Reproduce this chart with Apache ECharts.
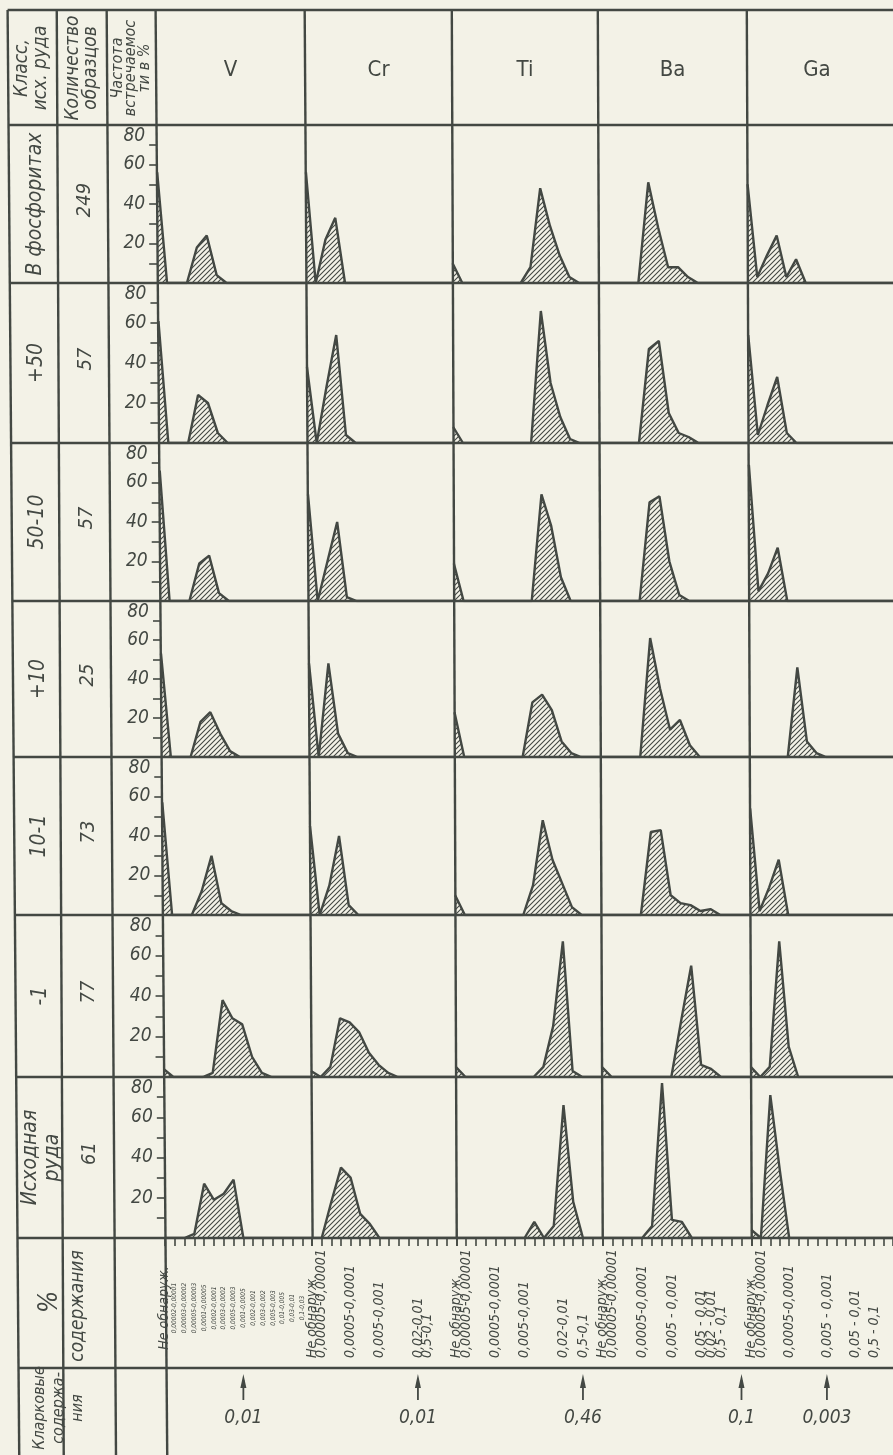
<!DOCTYPE html>
<html>
<head>
<meta charset="utf-8">
<script src="https://cdn.jsdelivr.net/npm/echarts@6/dist/echarts.min.js"></script>
<style>
  html, body { margin: 0; padding: 0; background: #f3f2e7; }
  #main { width: 893px; height: 1455px; }
</style>
</head>
<body>
<div id="main"></div>
<script>
const elements = ['V', 'Cr', 'Ti', 'Ba', 'Ga'];
const oreClasses = ['В фосфоритах', '+50', '50-10', '+10', '10-1', '-1', 'Исходная\nруда'];
const sampleCounts = ['249', '57', '57', '25', '73', '77', '61'];

// frequency, %, per content class (16 ticks per element), one row per ore class
const vFreq = [
  [56, 0, 0, 0, 18, 24, 4, 0, 0, 0, 0, 0, 0, 0, 0, 0],
  [61, 0, 0, 0, 24, 20, 5, 0, 0, 0, 0, 0, 0, 0, 0, 0],
  [66, 0, 0, 0, 19, 23, 4, 0, 0, 0, 0, 0, 0, 0, 0, 0],
  [53, 0, 0, 0, 18, 23, 12, 3, 0, 0, 0, 0, 0, 0, 0, 0],
  [57, 0, 0, 0, 12, 30, 6, 2, 0, 0, 0, 0, 0, 0, 0, 0],
  [4, 0, 0, 0, 0, 2, 38, 29, 26, 10, 2, 0, 0, 0, 0, 0],
  [0, 0, 0, 2, 27, 19, 22, 29, 0, 0, 0, 0, 0, 0, 0, 0]
];
const crFreq = [
  [56, 0, 22, 33, 0, 0, 0, 0, 0, 0, 0, 0, 0, 0, 0, 0],
  [38, 0, 28, 54, 4, 0, 0, 0, 0, 0, 0, 0, 0, 0, 0, 0],
  [54, 0, 20, 40, 2, 0, 0, 0, 0, 0, 0, 0, 0, 0, 0, 0],
  [48, 0, 48, 12, 2, 0, 0, 0, 0, 0, 0, 0, 0, 0, 0, 0],
  [45, 0, 15, 40, 5, 0, 0, 0, 0, 0, 0, 0, 0, 0, 0, 0],
  [3, 0, 5, 29, 27, 22, 12, 6, 2, 0, 0, 0, 0, 0, 0, 0],
  [0, 0, 18, 35, 30, 12, 7, 0, 0, 0, 0, 0, 0, 0, 0, 0]
];
const tiFreq = [
  [10, 0, 0, 0, 0, 0, 0, 0, 8, 48, 29, 14, 3, 0, 0, 0],
  [8, 0, 0, 0, 0, 0, 0, 0, 0, 66, 30, 13, 2, 0, 0, 0],
  [19, 0, 0, 0, 0, 0, 0, 0, 0, 54, 38, 12, 0, 0, 0, 0],
  [23, 0, 0, 0, 0, 0, 0, 0, 28, 32, 24, 8, 2, 0, 0, 0],
  [10, 0, 0, 0, 0, 0, 0, 0, 15, 48, 28, 16, 4, 0, 0, 0],
  [5, 0, 0, 0, 0, 0, 0, 0, 0, 5, 25, 67, 3, 0, 0, 0],
  [0, 0, 0, 0, 0, 0, 0, 0, 8, 0, 6, 66, 18, 0, 0, 0]
];
const baFreq = [
  [0, 0, 0, 0, 0, 51, 28, 8, 8, 3, 0, 0, 0, 0, 0, 0],
  [0, 0, 0, 0, 0, 47, 51, 15, 5, 3, 0, 0, 0, 0, 0, 0],
  [0, 0, 0, 0, 0, 50, 53, 20, 3, 0, 0, 0, 0, 0, 0, 0],
  [0, 0, 0, 0, 0, 61, 35, 14, 19, 6, 0, 0, 0, 0, 0, 0],
  [0, 0, 0, 0, 0, 42, 43, 10, 6, 5, 2, 3, 0, 0, 0, 0],
  [5, 0, 0, 0, 0, 0, 0, 0, 28, 55, 6, 4, 0, 0, 0, 0],
  [0, 0, 0, 0, 0, 6, 77, 9, 8, 0, 0, 0, 0, 0, 0, 0]
];
const gaFreq = [
  [50, 3, 14, 24, 3, 12, 0, 0, 0, 0, 0, 0, 0, 0, 0, 0],
  [54, 4, 19, 33, 5, 0, 0, 0, 0, 0, 0, 0, 0, 0, 0, 0],
  [69, 5, 14, 27, 0, 0, 0, 0, 0, 0, 0, 0, 0, 0, 0, 0],
  [0, 0, 0, 0, 0, 46, 8, 2, 0, 0, 0, 0, 0, 0, 0, 0],
  [54, 2, 14, 28, 0, 0, 0, 0, 0, 0, 0, 0, 0, 0, 0, 0],
  [5, 0, 5, 67, 15, 0, 0, 0, 0, 0, 0, 0, 0, 0, 0, 0],
  [4, 0, 71, 34, 0, 0, 0, 0, 0, 0, 0, 0, 0, 0, 0, 0]
];

// content classes, % (label shown under a tick, '' = unlabelled tick)
const vTicks = ['Не обнаруж.', '0,00002-0,00001', '0,00003-0,00002', '0,00005-0,00003', '0,0001-0,00005',
  '0,0002-0,0001', '0,0003-0,0002', '0,0005-0,0003', '0,001-0,0005', '0,002-0,001', '0,003-0,002',
  '0,005-0,003', '0,01-0,005', '0,03-0,01', '0,1-0,03', ''];
const crTicks = ['Не обнаруж.', '0,00005-0,00001', '', '', '0,0005-0,0001', '', '', '0,005-0,001', '', '', '',
  '0,02-0,01', '0,5-0,1', '', '', ''];
const tiTicks = ['Не обнаруж.', '0,00005-0,00001', '', '', '0,0005-0,0001', '', '', '0,005-0,001', '', '', '',
  '0,02-0,01', '', '0,5-0,1', '', ''];
const baTicks = ['Не обнаруж.', '0,00005-0,00001', '', '', '0,0005-0,0001', '', '', '0,005 - 0,001', '', '',
  '0,05 - 0,01', '0,02 - 0,01', '0,5 - 0,1', '', '', ''];
const gaTicks = ['Не обнаруж.', '0,00005-0,00001', '', '', '0,0005-0,0001', '', '', '', '0,005 - 0,001', '', '',
  '0,05 - 0,01', '', '0,5 - 0,1', '', ''];

const freqTicks = [20, 40, 60, 80];
// clarke contents and the class tick they point at
const clarkeText = ['0,01', '0,01', '0,46', '0,1', '0,003'];
const clarkeTick = [8, 11, 13, 14, 8];

const freqs = [vFreq, crFreq, tiFreq, baFreq, gaFreq];
const ticks = [vTicks, crTicks, tiTicks, baTicks, gaTicks];

// --- table layout ---
const INK = '#434843';
const FONT = "'DejaVu Sans Condensed', 'DejaVu Sans', sans-serif";
const W = 893;
const rowTops = [125, 283, 443, 601, 757, 915, 1077];
const rowBots = [283, 443, 601, 757, 915, 1077, 1238];
// the scan is slightly skewed: column lines measured near top and near bottom
const colTop = [8, 57, 107, 156, 305, 452, 598, 747];
const colBot = [18, 63, 115, 166, 313, 457, 603, 752];
const colX = (i, y) => colTop[i] + (colBot[i] - colTop[i]) * (y - 60) / 1240;

const hatch = document.createElement('canvas');
hatch.width = 5; hatch.height = 5;
const hc = hatch.getContext('2d');
hc.strokeStyle = INK; hc.lineWidth = 1.1;
hc.beginPath();
hc.moveTo(0, 5); hc.lineTo(5, 0);
hc.moveTo(-1, 1); hc.lineTo(1, -1);
hc.moveTo(4, 6); hc.lineTo(6, 4);
hc.stroke();

const grids = [], xAxes = [], yAxes = [], series = [];
oreClasses.forEach((cls, r) => {
  const top = rowTops[r], h = rowBots[r] - rowTops[r], mid = top + h / 2;
  elements.forEach((el, e) => {
    const k = grids.length;
    const left = colX(3 + e, mid);
    const right = e < 4 ? colX(4 + e, mid) : W;
    grids.push({ left: left, top: top, width: right - left, height: h, containLabel: false, outerBoundsMode: 'none' });
    const last = r === oreClasses.length - 1;
    const tk = ticks[e];
    xAxes.push({
      type: 'category', gridIndex: k, boundaryGap: false,
      data: tk.map((t, i) => String(i)),
      axisLine: { show: false },
      axisTick: { show: last, interval: 0, length: 8, lineStyle: { color: INK, width: 1.6 } },
      axisLabel: {
        show: last, interval: 0, rotate: 90, hideOverlap: false,
        align: e === 0 ? 'center' : 'left', verticalAlign: 'middle',
        margin: e === 0 ? 70 : 120,
        color: INK, fontFamily: FONT, fontStyle: 'italic', fontSize: 14,
        formatter: (v, i) => (e === 0 && i > 0 && tk[i]) ? '{s|' + tk[i] + '}' : tk[i],
        rich: { s: { fontSize: 6.5, fontFamily: FONT, fontStyle: 'italic', color: INK } }
      },
      splitLine: { show: false }
    });
    yAxes.push({
      type: 'value', gridIndex: k, min: 0, max: 80, interval: 10, show: e === 0,
      axisLine: { show: false },
      axisTick: { show: true, length: 8, lineStyle: { color: INK, width: 1.6 } },
      axisLabel: {
        margin: 12, color: INK, fontFamily: FONT, fontStyle: 'italic', fontSize: 19,
        formatter: v => v === 80 ? '{lo|80}' : (freqTicks.includes(v) ? String(v) : ''),
        rich: { lo: { padding: [22, 0, 0, 0], fontSize: 19, fontFamily: FONT, fontStyle: 'italic', color: INK } }
      },
      splitLine: { show: false }
    });
    series.push({
      type: 'line', xAxisIndex: k, yAxisIndex: k, data: freqs[e][r],
      symbol: 'none', silent: true,
      lineStyle: { color: INK, width: 2.4 },
      areaStyle: { color: { image: hatch, repeat: 'repeat' }, opacity: 1 }
    });
  });
});

// --- table lines and cell texts ---
const graphic = [];
const line = (x1, y1, x2, y2, w) => graphic.push({
  type: 'line', z: 100, silent: true,
  shape: { x1, y1, x2, y2 }, style: { stroke: INK, lineWidth: w || 2.4 }
});
const text = (x, y, s, o) => graphic.push({
  type: 'text', z: 101, silent: true, x: x, y: y, rotation: o.rot ? Math.PI / 2 : 0,
  style: {
    text: s, fill: INK, fontFamily: FONT, fontStyle: o.upright ? 'normal' : 'italic',
    fontSize: o.size, lineHeight: o.lh || o.size * 1.1, align: 'center', verticalAlign: 'middle'
  }
});

[10, 125, 283, 443, 601, 757, 915, 1077, 1238, 1368].forEach(y => line(colX(0, y), y, W, y));
[0, 1, 2, 3].forEach(i => line(colX(i, 10), 10, colX(i, 1455), 1455));
[4, 5, 6, 7].forEach(i => line(colX(i, 10), 10, colX(i, 1238), 1238));

// header
text(32, 68, 'Класс,\nисх. руда', { rot: true, size: 19, lh: 19 });
text(82, 68, 'Количество\nобразцов', { rot: true, size: 19, lh: 18 });
text(131, 68, 'Частота\nвстречаемос\nти в %', { rot: true, size: 16, lh: 13.5 });
elements.forEach((el, e) => {
  const l = colX(3 + e, 68), rr = e < 4 ? colX(4 + e, 68) : W;
  text((l + rr) / 2 + (e === 4 ? -3 : 0), 70, el, { upright: true, size: 22 });
});
// ore class rows
oreClasses.forEach((cls, r) => {
  const mid = (rowTops[r] + rowBots[r]) / 2;
  const c1 = (colX(0, mid) + colX(1, mid)) / 2, c2 = (colX(1, mid) + colX(2, mid)) / 2;
  text(c1 + 2, mid, cls, { rot: true, size: 21, lh: 22 });
  text(c2 + 2, mid - 4, sampleCounts[r], { rot: true, size: 20 });
});
// content row and clarke row captions
text(50, 1302, '%', { rot: true, size: 26 });
text(78, 1306, 'содержания', { rot: true, size: 19 });
text(59, 1408, 'Кларковые\nсодержа-\nния', { rot: true, size: 16, lh: 19 });

const chart = echarts.init(document.getElementById('main'), null, { renderer: 'canvas' });
chart.setOption({
  backgroundColor: '#f3f2e7',
  animation: false,
  grid: grids, xAxis: xAxes, yAxis: yAxes, series: series
});

// clarke arrows, placed on the bottom row's class axis
const bottom = (oreClasses.length - 1) * elements.length;
clarkeText.forEach((t, e) => {
  const x = chart.convertToPixel({ xAxisIndex: bottom + e }, String(clarkeTick[e]));
  line(x, 1400, x, 1380, 1.8);
  graphic.push({
    type: 'polygon', z: 100, silent: true,
    shape: { points: [[x, 1374], [x - 3, 1388], [x + 3, 1388]] }, style: { fill: INK }
  });
  text(x, 1418, t, { size: 19 });
});
chart.setOption({ graphic: graphic });
</script>
</body>
</html>
